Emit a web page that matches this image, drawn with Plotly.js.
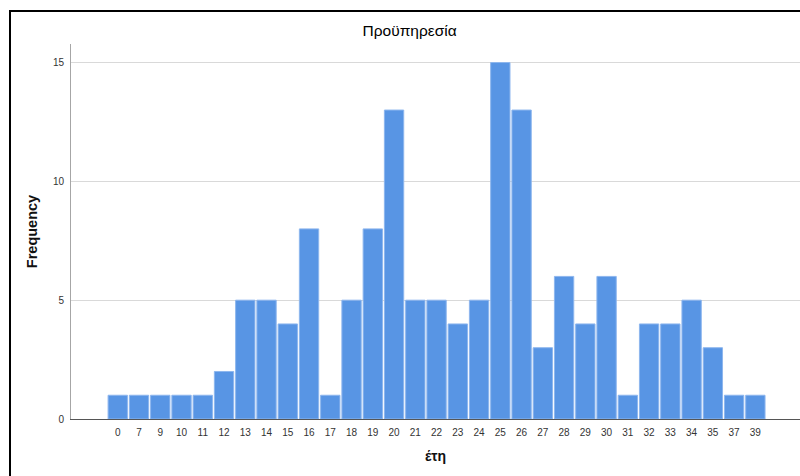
<!DOCTYPE html>
<html>
<head>
<meta charset="utf-8">
<script src="https://cdn.plot.ly/plotly-3.0.1.min.js"></script>
<style>
  html, body { margin: 0; padding: 0; background: #fff; }
  #wrap { position: relative; width: 800px; height: 476px; overflow: hidden; }
  #chart { position: absolute; left: 0; top: 0; width: 800px; height: 476px; }
  #frame { position: absolute; left: 9px; top: 10px; width: 800px; height: 480px;
           border-left: 2px solid #000; border-top: 2px solid #000; pointer-events: none; }
</style>
</head>
<body>
<div id="wrap">
  <div id="chart"></div>
  <div id="frame"></div>
</div>
<script>
const chartTitle = "Προϋπηρεσία";
const xTitle = "έτη";
const yTitle = "Frequency";
const years = ["0","7","9","10","11","12","13","14","15","16","17","18","19","20","21","22","23","24","25","26","27","28","29","30","31","32","33","34","35","37","39"];
const frequency = [1,1,1,1,1,2,5,5,4,8,1,5,8,13,5,5,4,5,15,13,3,6,4,6,1,4,4,5,3,1,1];
const yTicks = [0, 5, 10, 15];

const font = "Arial, 'Liberation Sans', sans-serif";

Plotly.newPlot("chart", [{
  type: "bar",
  x: years,
  y: frequency,
  marker: { color: "#5895e4", line: { color: "#8db6ee", width: 1 } },
  hoverinfo: "x+y"
}], {
  width: 800, height: 476,
  margin: { l: 71, r: 0, t: 44, b: 57 },
  paper_bgcolor: "#fff",
  plot_bgcolor: "#fff",
  bargap: 0.09,
  showlegend: false,
  font: { family: font, color: "#222" },
  title: {
    text: chartTitle,
    font: { family: font, size: 15.5, color: "#000", weight: "normal" },
    x: 0.512, xref: "container", xanchor: "center",
    y: 1 - 31/476, yref: "container", yanchor: "middle"
  },
  xaxis: {
    type: "category",
    range: [-2.2, 32.1],
    showgrid: false,
    zeroline: false,
    showline: true, linecolor: "#555", linewidth: 1,
    ticks: "", tickfont: { family: font, size: 10, color: "#333" },
    ticklabelstandoff: 4,
    title: { text: xTitle, font: { family: font, size: 14, color: "#111", weight: "bold" }, standoff: 14 },
    fixedrange: true
  },
  yaxis: {
    range: [0, 15.78],
    tickvals: yTicks,
    ticktext: yTicks.map(String),
    showgrid: true, gridcolor: "#d9d9d9", gridwidth: 1,
    zeroline: false,
    showline: true, linecolor: "#a6a6a6", linewidth: 1,
    ticks: "", tickfont: { family: font, size: 10, color: "#333" },
    ticklabelstandoff: 4,
    title: { text: yTitle, font: { family: font, size: 14.5, color: "#111", weight: "bold" }, standoff: 11 },
    fixedrange: true
  }
}, { displayModeBar: false, staticPlot: true });
</script>
</body>
</html>
